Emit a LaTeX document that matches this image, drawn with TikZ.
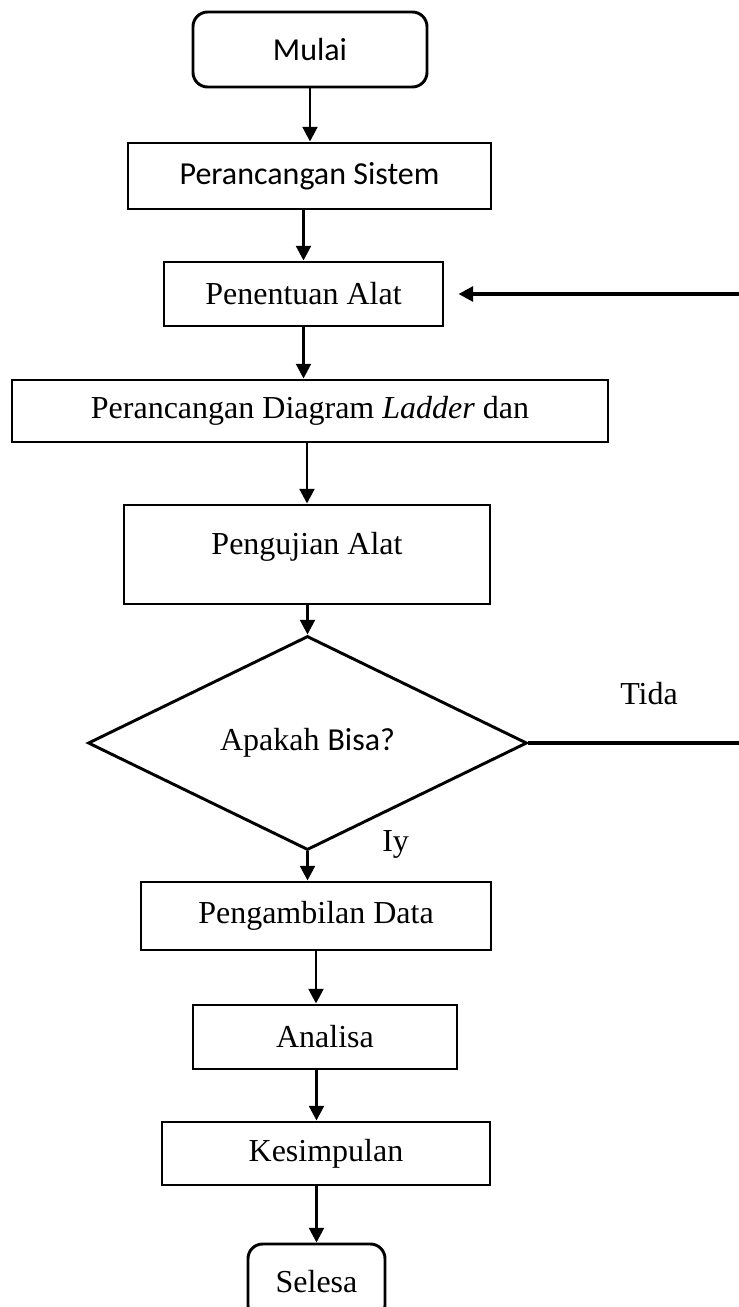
\documentclass[tikz,border=0pt]{standalone}
\usepackage{fontspec}
\setmainfont{Liberation Serif}
\newfontfamily\calibrifont{Carlito}
\usetikzlibrary{arrows.meta,shapes.geometric}

\begin{document}
\begin{tikzpicture}[x=.75pt, y=-.75pt, >={Triangle[width=11pt,length=11pt]},
langkah/.style={draw, line width=2.2pt, inner sep=0pt, font=\fontsize{24}{29}\selectfont},
ujung/.style={langkah, rounded corners=11pt},
tanya/.style={langkah, diamond},
sans/.style={font=\calibrifont\fontsize{24}{29}\selectfont},
ket/.style={inner sep=0pt, anchor=base west, font=\fontsize{24}{29}\selectfont},
alur/.style={->, line width=2.2pt},
balik/.style={line width=3pt}]


%%%%%%%% SETTINGS %%%%%%%%%%%%%
\def\px{.75pt}
%%%%%%%%%%%%%%%%%%%%%%%%%%%

\useasboundingbox (0,0) rectangle (739,1307);

\node[ujung, sans, minimum width=234*\px, minimum height=75*\px] (mulai) at (310,49.5) {Mulai};
\node[langkah, sans, minimum width=363*\px, minimum height=66*\px] (sistem) at (309.5,176) {Perancangan Sistem};
\node[langkah, minimum width=279*\px, minimum height=64*\px] (alat) at (303.5,294) {Penentuan Alat};
\node[langkah, minimum width=596*\px, minimum height=62*\px] (ladder) at (310,411) {Perancangan Diagram \textit{Ladder} dan};
\node[langkah, minimum width=366*\px, minimum height=99*\px, text depth=17pt] (uji) at (307,554.5) {Pengujian Alat};
\node[tanya, minimum width=439*\px, minimum height=214*\px] (cek) at (307.5,743) {Apakah {\calibrifont Bisa?}};
\node[langkah, minimum width=350*\px, minimum height=68*\px] (ambil) at (316,916) {Pengambilan Data};
\node[langkah, minimum width=264*\px, minimum height=64*\px] (analisa) at (325,1037) {Analisa};
\node[langkah, minimum width=328*\px, minimum height=63*\px] (simpul) at (326,1153.5) {Kesimpulan};
\node[ujung, minimum width=137*\px, minimum height=76*\px] (selesa) at (316.5,1282) {Selesa};

\node[ket] (tidak) at (620,704) {Tida};
\node[ket] (iya) at (382,851) {Iy};

\coordinate (kanan1) at (739,294);
\coordinate (kanan2) at (739,743);

\draw[alur] (mulai.south) -- (mulai.south |- sistem.north);
\draw[alur] (alat.north |- sistem.south) -- (alat.north);
\draw[alur] (alat.south) -- (alat.south |- ladder.north);
\draw[alur] (uji.north |- ladder.south) -- (uji.north);
\draw[alur] (cek.north |- uji.south) -- (cek.north);
\draw[alur] (cek.south) -- (cek.south |- ambil.north);
\draw[alur] (ambil.south) -- (ambil.south |- analisa.north);
\draw[alur] (analisa.south -| selesa.north) -- (simpul.north -| selesa.north);
\draw[alur] (simpul.south -| selesa.north) -- (selesa.north);

\draw[alur, balik] (kanan1) -- ([xshift=10.5pt]alat.east);
\draw[balik] (cek.east) -- (kanan2);
\end{tikzpicture}
\end{document}
